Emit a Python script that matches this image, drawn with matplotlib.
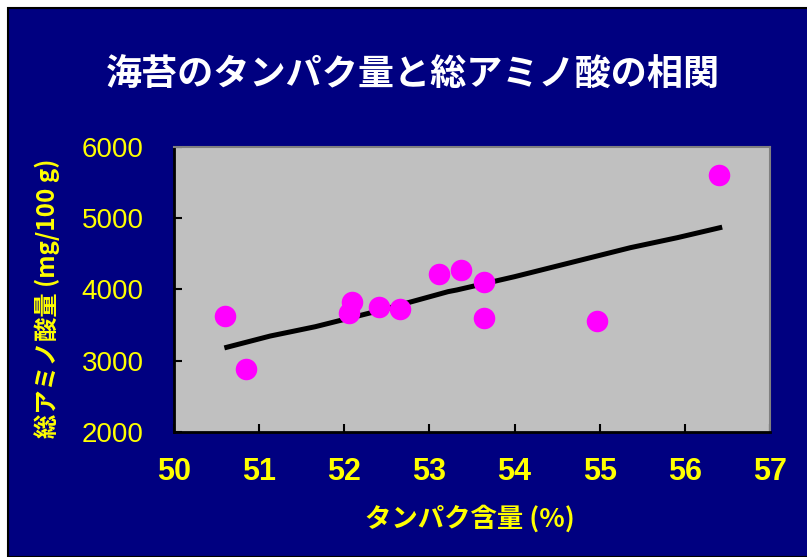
import matplotlib
matplotlib.use("Agg")
import matplotlib.pyplot as plt
from matplotlib.patches import Rectangle
from matplotlib import font_manager

protein = [50.60, 50.85, 52.05, 52.09, 52.41, 52.66, 53.11, 53.37, 53.64, 53.64, 54.97, 56.40]
amino = [3628, 2884, 3666, 3829, 3759, 3726, 4213, 4274, 4110, 3595, 3558, 5607]

trend_x = [50.62, 51.13, 51.66, 52.4, 53.22, 53.32, 54.0, 55.36, 55.91, 56.41]
trend_y = [3189, 3347, 3478, 3700, 3970, 3993, 4180, 4587, 4727, 4867]

x_ticks = [50, 51, 52, 53, 54, 55, 56, 57]
y_ticks = [2000, 3000, 4000, 5000, 6000]

title = "海苔のタンパク量と総アミノ酸の相関"
xlabel = "タンパク含量 (%)"
ylabel = "総アミノ酸量 (mg/100 g)"

names = {f.name for f in font_manager.fontManager.ttflist}
num_font = "Liberation Sans Narrow" if "Liberation Sans Narrow" in names else "Liberation Sans"
jp = ["Noto Sans CJK JP", "DejaVu Sans"]

navy = "#000080"
yellow = "#ffff00"

fig = plt.figure(figsize=(8.07, 5.57), dpi=100, facecolor="white")
W, H = 807, 557
bg = Rectangle((8 / W, 0), 1, (H - 8) / H, transform=fig.transFigure,
               facecolor=navy, edgecolor="black", linewidth=1.5, zorder=-10)
fig.add_artist(bg)

ax = fig.add_axes([174 / W, (H - 432) / H, (770 - 174) / W, (432 - 147) / H])
ax.set_facecolor("#c0c0c0")
ax.plot(trend_x, trend_y, color="black", linewidth=3.6, zorder=2)
ax.plot(protein, amino, "o", color="#ff00ff", markersize=15.5, markeredgewidth=0, zorder=3)

ax.set_xlim(50, 57)
ax.set_ylim(2000, 6000)
ax.set_xticks(x_ticks)
ax.set_yticks(y_ticks)
ax.set_xticklabels([str(t) for t in x_ticks], fontfamily=num_font, fontsize=22, color=yellow, fontweight="bold")
ax.set_yticklabels([str(t) for t in y_ticks], fontfamily="Liberation Sans", fontsize=20, color=yellow)
ax.tick_params(axis="x", direction="in", length=6, width=1.5, color="black", pad=18)
ax.tick_params(axis="y", direction="in", length=6, width=1.5, color="black", pad=22)

for side in ["left", "bottom"]:
    ax.spines[side].set_color("black")
    ax.spines[side].set_linewidth(2)
for side in ["top", "right"]:
    ax.spines[side].set_color("#808080")
    ax.spines[side].set_linewidth(1.5)

fig.text(413 / W, 1 - 75 / H, title, ha="center", va="center", color="white",
         fontsize=26, fontweight="bold", family=jp)
fig.text(470 / W, 1 - 519 / H, xlabel, ha="center", va="center", color=yellow,
         fontsize=19, fontweight="bold", family=jp)
fig.text(47 / W, 1 - 298 / H, ylabel, ha="center", va="center", color=yellow,
         fontsize=17.5, fontweight="bold", family=jp, rotation=90)

fig.savefig("out.png", dpi=100, facecolor="white")
